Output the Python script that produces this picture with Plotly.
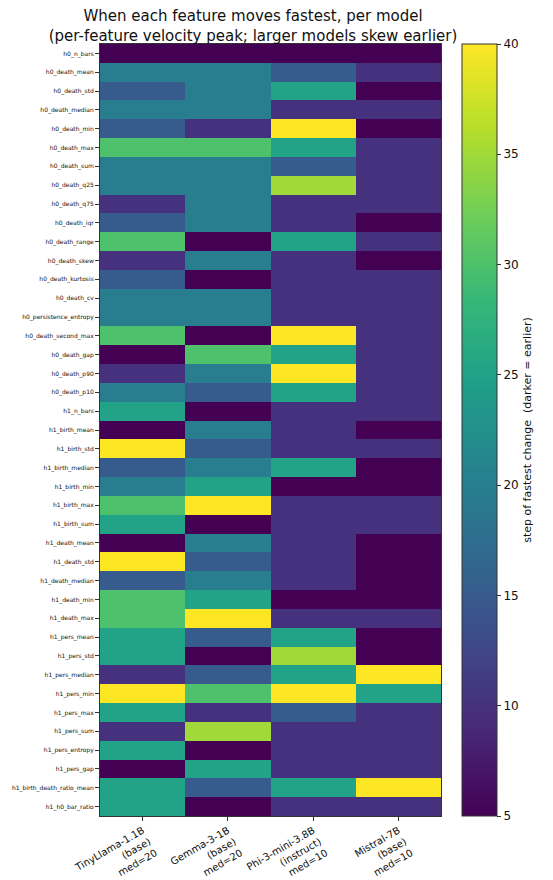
import plotly.graph_objects as go

features = [
    "h0_n_bars", "h0_death_mean", "h0_death_std", "h0_death_median", "h0_death_min",
    "h0_death_max", "h0_death_sum", "h0_death_q25", "h0_death_q75", "h0_death_iqr",
    "h0_death_range", "h0_death_skew", "h0_death_kurtosis", "h0_death_cv",
    "h0_persistence_entropy", "h0_death_second_max", "h0_death_gap", "h0_death_p90",
    "h0_death_p10", "h1_n_bars", "h1_birth_mean", "h1_birth_std", "h1_birth_median",
    "h1_birth_min", "h1_birth_max", "h1_birth_sum", "h1_death_mean", "h1_death_std",
    "h1_death_median", "h1_death_min", "h1_death_max", "h1_pers_mean", "h1_pers_std",
    "h1_pers_median", "h1_pers_min", "h1_pers_max", "h1_pers_sum", "h1_pers_entropy",
    "h1_pers_gap", "h1_birth_death_ratio_mean", "h1_h0_bar_ratio",
]

models = [
    "TinyLlama-1.1B<br>(base)<br>med=20",
    "Gemma-3-1B<br>(base)<br>med=20",
    "Phi-3-mini-3.8B<br>(instruct)<br>med=10",
    "Mistral-7B<br>(base)<br>med=10",
]

tinyllama = [5, 20, 15, 20, 15, 30, 20, 20, 10, 15, 30, 10, 15, 20, 20, 30, 5, 10, 20, 25,
             5, 40, 15, 20, 30, 25, 5, 40, 15, 30, 30, 25, 25, 10, 40, 25, 10, 25, 5, 25, 25]
gemma = [5, 20, 20, 20, 10, 30, 20, 20, 20, 20, 5, 20, 5, 20, 20, 5, 30, 20, 15, 5,
         20, 15, 20, 25, 40, 5, 20, 15, 20, 25, 40, 15, 5, 15, 30, 10, 35, 5, 25, 15, 5]
phi = [5, 15, 25, 10, 40, 25, 15, 35, 10, 10, 25, 10, 10, 10, 10, 40, 25, 40, 25, 10,
       10, 10, 25, 5, 10, 10, 10, 10, 10, 5, 10, 25, 35, 25, 40, 15, 10, 10, 10, 25, 10]
mistral = [5, 10, 5, 10, 5, 10, 10, 10, 10, 5, 10, 5, 10, 10, 10, 10, 10, 10, 10, 10,
           5, 10, 5, 5, 10, 10, 5, 5, 5, 5, 10, 5, 5, 40, 25, 10, 10, 10, 10, 40, 10]

z = [[a, b, c, d] for a, b, c, d in zip(tinyllama, gemma, phi, mistral)]

W, H = 553, 880
L, R, T, B = 100, 112, 44, 64
plot_w = W - L - R

fig = go.Figure(go.Heatmap(
    z=z, x=models, y=features,
    colorscale="Viridis", zmin=5, zmax=40,
    colorbar=dict(
        x=(462 - L) / plot_w, xanchor="left", xref="paper",
        y=0, yanchor="bottom", len=1, lenmode="fraction",
        thickness=35, thicknessmode="pixels",
        outlinewidth=1, outlinecolor="#333",
        tickvals=[5, 10, 15, 20, 25, 30, 35, 40],
        ticks="outside", ticklen=4, tickcolor="#333",
        tickfont=dict(family="DejaVu Sans", size=12, color="#111"),
        title=dict(text="step of fastest change  (darker = earlier)", side="right",
                   font=dict(family="DejaVu Sans", size=11, color="#111")),
        xpad=0, ypad=0,
    ),
    hovertemplate="%{y}<br>%{x}<br>%{z}<extra></extra>",
))

fig.update_layout(
    width=W, height=H,
    margin=dict(l=L, r=R, t=T, b=B, autoexpand=False),
    paper_bgcolor="white", plot_bgcolor="white",
    font=dict(family="DejaVu Sans", color="#111"),
    title=dict(
        text="When each feature moves fastest, per model<br>(per-feature velocity peak; larger models skew earlier)",
        x=253 / W, xanchor="center", xref="container",
        y=1, yanchor="bottom", yref="paper", pad=dict(b=23),
        font=dict(family="DejaVu Sans", size=15, color="#111"),
    ),
)
fig.update_xaxes(
    tickangle=-30, ticks="outside", ticklen=4, tickcolor="#333", automargin=False,
    tickfont=dict(family="DejaVu Sans", size=10, color="#111"),
    showline=True, linecolor="#333", linewidth=1, mirror=True, showgrid=False,
)
fig.update_yaxes(
    autorange="reversed", ticks="outside", ticklen=4, tickcolor="#333", automargin=False,
    tickfont=dict(family="DejaVu Sans", size=6, color="#111"),
    showline=True, linecolor="#333", linewidth=1, mirror=True, showgrid=False,
)

fig.write_html("out.html")
